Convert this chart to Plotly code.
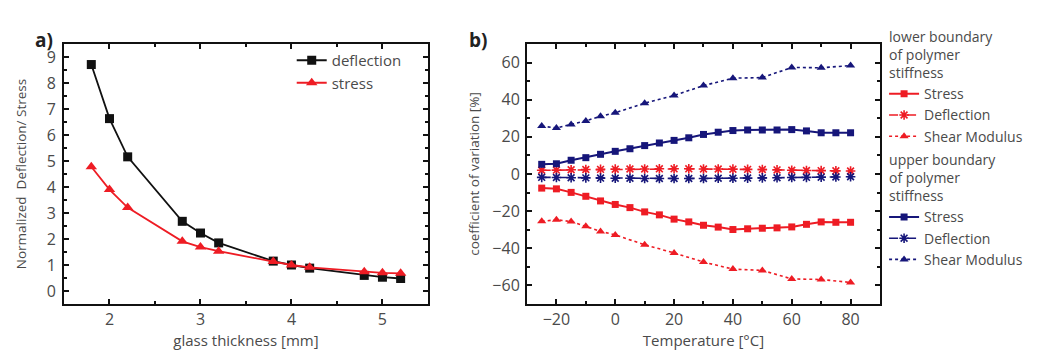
import plotly.graph_objects as go

# ---- panel a data ----
thickness = [1.8, 2.0, 2.2, 2.8, 3.0, 3.2, 3.8, 4.0, 4.2, 4.8, 5.0, 5.2]
deflection_a = [8.71, 6.63, 5.16, 2.68, 2.23, 1.85, 1.15, 1.0, 0.88, 0.6, 0.53, 0.48]
stress_a = [4.78, 3.9, 3.21, 1.91, 1.69, 1.53, 1.13, 1.0, 0.91, 0.74, 0.7, 0.68]
y_ticks_a = [0, 1, 2, 3, 4, 5, 6, 7, 8, 9]

# ---- panel b data ----
temp_5 = [-25, -20, -15, -10, -5, 0, 5, 10, 15, 20, 25, 30, 35, 40, 45, 50, 55, 60, 65, 70, 75, 80]
temp_shear = [-25, -20, -15, -10, -5, 0, 10, 20, 30, 40, 50, 60, 70, 80]

lower_stress = [-7.6, -8.0, -9.9, -12.0, -14.5, -16.4, -18.1, -20.4, -22.0, -24.3, -25.8, -27.6,
                -28.6, -29.9, -29.5, -29.2, -29.0, -28.5, -27.1, -25.8, -26.0, -26.0]
lower_deflection = [2.0, 2.1, 2.3, 2.4, 2.5, 2.6, 2.7, 2.7, 2.8, 2.8, 2.8, 2.7, 2.7, 2.6, 2.5,
                    2.4, 2.2, 2.0, 1.9, 1.8, 1.7, 1.6]
lower_shear = [-25.5, -24.6, -25.6, -28.1, -30.9, -32.8, -38.1, -42.5, -47.4, -51.2, -51.9,
               -56.5, -56.8, -58.4]

upper_stress = [5.2, 5.5, 7.4, 8.8, 10.6, 12.2, 13.6, 15.3, 16.7, 18.1, 19.5, 21.3, 22.5, 23.4,
                23.7, 23.7, 23.7, 23.9, 23.2, 22.2, 22.2, 22.2]
upper_deflection = [-1.8, -1.9, -2.0, -2.1, -2.2, -2.3, -2.3, -2.4, -2.4, -2.4, -2.4, -2.4, -2.3,
                    -2.3, -2.2, -2.1, -2.0, -1.9, -1.8, -1.7, -1.6, -1.5]
upper_shear = [25.8, 24.8, 26.7, 28.6, 31.1, 33.0, 38.1, 42.3, 47.6, 51.6, 51.9, 57.4, 57.2, 58.4]

RED = "#ee1c24"
NAVY = "#16167a"
BLACK = "#111111"
FONT = "Open Sans"
TXT = "#4a4a4a"

fig = go.Figure()

# panel a
fig.add_trace(go.Scatter(x=thickness, y=deflection_a, name="deflection", mode="lines+markers",
                         line=dict(color=BLACK, width=1.8),
                         marker=dict(symbol="square", size=9, color=BLACK),
                         xaxis="x", yaxis="y", legend="legend"))
fig.add_trace(go.Scatter(x=thickness, y=stress_a, name="stress", mode="lines+markers",
                         line=dict(color=RED, width=1.8),
                         marker=dict(symbol="triangle-up", size=10, color=RED),
                         xaxis="x", yaxis="y", legend="legend"))

# panel b
def add_b(x, y, name, color, dash, symbol, size, group, gtitle, width=1.6):
    kw = {}
    if gtitle:
        kw["legendgrouptitle"] = dict(text=gtitle, font=dict(family=FONT, size=14, color=TXT))
    mk = dict(symbol=symbol, size=size, color=color)
    if symbol.startswith("asterisk"):
        mk["line"] = dict(color=color, width=1.6)
    fig.add_trace(go.Scatter(x=x, y=y, name=name, mode="lines+markers",
                             line=dict(color=color, width=width, dash=dash),
                             marker=mk, xaxis="x2", yaxis="y2", legend="legend2",
                             legendgroup=group, **kw))

lt = "lower boundary<br>of polymer<br>stiffness"
ut = "upper boundary<br>of polymer<br>stiffness"
add_b(temp_5, lower_stress, "Stress", RED, "solid", "square", 7, "low", lt, 2)
add_b(temp_5, lower_deflection, "Deflection", RED, "dash", "asterisk", 8, "low", None)
add_b(temp_shear, lower_shear, "Shear Modulus", RED, "dot", "triangle-up", 8, "low", None)
add_b(temp_5, upper_stress, "Stress", NAVY, "solid", "square", 7, "up", ut, 2)
add_b(temp_5, upper_deflection, "Deflection", NAVY, "dash", "asterisk", 8, "up", None)
add_b(temp_shear, upper_shear, "Shear Modulus", NAVY, "dot", "triangle-up", 8, "up", None)

axis_common = dict(showline=True, linecolor="#111111", linewidth=2, mirror="allticks",
                   ticks="inside", ticklen=5, tickwidth=1.5, tickcolor="#111111",
                   showgrid=False, zeroline=False,
                   tickfont=dict(family=FONT, size=16, color=TXT))
xt_font = dict(family=FONT, size=15, color=TXT)
yt_font = dict(family=FONT, size=13.5, color=TXT)

fig.update_layout(
    width=1051, height=351,
    margin=dict(l=56, r=179, t=36, b=48),
    paper_bgcolor="white", plot_bgcolor="white",
    font=dict(family=FONT, color=TXT),
    xaxis=dict(domain=[0, 0.446], range=[1.5, 5.5], tickvals=[2, 3, 4, 5],
               minor=dict(dtick=0.5, ticks="inside", ticklen=3, tickcolor="#111111"),
               title=dict(text="glass thickness [mm]", standoff=6, font=xt_font), anchor="y", **axis_common),
    yaxis=dict(domain=[0, 1], range=[-0.5, 9.5], tickvals=y_ticks_a, ticklabelstandoff=3,
               minor=dict(dtick=0.5, ticks="inside", ticklen=3, tickcolor="#111111"),
               title=dict(text="Normalized  Deflection/ Stress", standoff=17, font=yt_font), anchor="x", **axis_common),
    xaxis2=dict(domain=[0.5674, 1], range=[-30, 90], tickvals=[-20, 0, 20, 40, 60, 80],
                minor=dict(dtick=10, ticks="inside", ticklen=3, tickcolor="#111111"),
                title=dict(text="Temperature [°C]", standoff=6, font=xt_font), anchor="y2", **axis_common),
    yaxis2=dict(domain=[0, 1], range=[-70, 70], tickvals=[-60, -40, -20, 0, 20, 40, 60],
                ticklabelstandoff=2,
                minor=dict(dtick=10, ticks="inside", ticklen=3, tickcolor="#111111"),
                title=dict(text="coefficient of variation [%]", standoff=10, font=yt_font), anchor="x2", **axis_common),
    legend=dict(x=0.42, y=1.0, xanchor="right", yanchor="top", bgcolor="rgba(0,0,0,0)",
                font=dict(family=FONT, size=15, color=TXT), itemwidth=30,
                tracegroupgap=0),
    legend2=dict(x=1.005, y=1.09, xanchor="left", yanchor="top", bgcolor="rgba(0,0,0,0)",
                 font=dict(family=FONT, size=14, color=TXT), itemwidth=30,
                 tracegroupgap=2, groupclick="toggleitem", maxheight=351),
    showlegend=True,
)

# panel labels placed from pixel positions converted to paper coordinates
pw = 1051 - 56 - 179
ph = 351 - 36 - 48
def px2paper(px, py):
    return (px - 56) / pw, (351 - 48 - py) / ph
ax, ay = px2paper(25, 17)
bx, by = px2paper(470, 17)
fig.add_annotation(text="<b>a)</b>", x=ax, y=ay, xref="paper", yref="paper", showarrow=False,
                   font=dict(family=FONT, size=19, color="#222222"))
fig.add_annotation(text="<b>b)</b>", x=bx, y=by, xref="paper", yref="paper", showarrow=False,
                   font=dict(family=FONT, size=19, color="#222222"))

fig.write_html("out.html")
